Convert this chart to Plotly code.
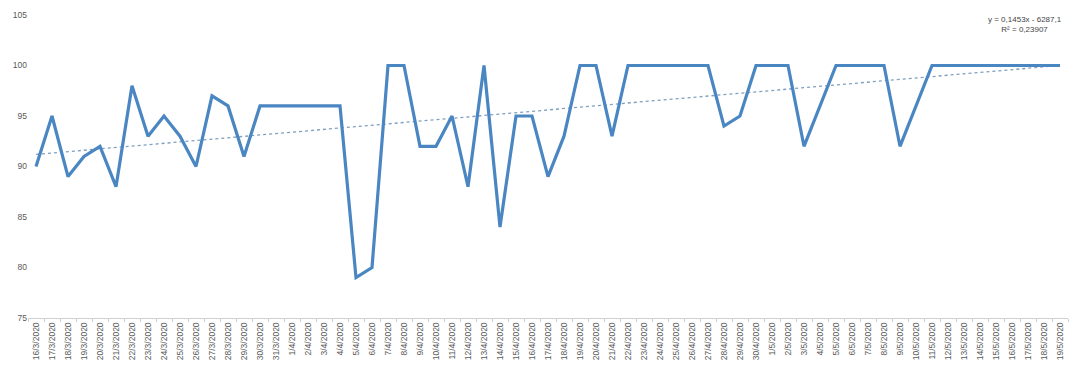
import numpy as np
import pandas as pd
import plotly.graph_objects as go

dates = pd.date_range("2020-03-16", "2020-05-19", freq="D")
labels = [f"{d.day}/{d.month}/{d.year}" for d in dates]

values = [
    90, 95, 89, 91, 92, 88, 98, 93, 95, 93, 90, 97, 96, 91, 96, 96,   # 16/3 - 31/3
    96, 96, 96, 96, 79, 80, 100, 100, 92, 92, 95, 88, 100, 84, 95, 95,  # 1/4 - 16/4
    89, 93, 100, 100, 93, 100, 100, 100, 100, 100, 100, 94, 95, 100,    # 17/4 - 30/4
    100, 100, 92, 96, 100, 100, 100, 100, 92, 96, 100, 100, 100, 100,   # 1/5 - 14/5
    100, 100, 100, 100, 100,                                            # 15/5 - 19/5
]

y_ticks = [75, 80, 85, 90, 95, 100, 105]
trend_label = ["y = 0,1453x - 6287,1", "R² = 0,23907"]

xi = np.arange(len(values))
slope, intercept = np.polyfit(xi, values, 1)
trend = slope * xi + intercept

fig = go.Figure()
fig.add_trace(go.Scatter(
    x=labels, y=trend, mode="lines",
    line=dict(color="#7f9fbf", width=1.3, dash="dot"),
    hoverinfo="skip", showlegend=False,
))
fig.add_trace(go.Scatter(
    x=labels, y=values, mode="lines",
    line=dict(color="#4a86c2", width=3.2),
    showlegend=False,
))

fig.add_annotation(
    xref="paper", yref="paper", x=0.9587, y=1.007, xanchor="center", yanchor="top",
    text=trend_label[0] + "<br>" + trend_label[1], showarrow=False, align="center",
    font=dict(family="Liberation Sans, Arial", size=8, color="#444444"),
)

# page body has an 8px margin, so figure is sized/offset to compensate
fig.update_layout(
    width=1068, height=353,
    margin=dict(l=20, r=8, t=7, b=43),
    paper_bgcolor="white", plot_bgcolor="white",
    font=dict(family="Liberation Sans, Arial", color="#595959"),
)
fig.update_xaxes(
    type="category", tickangle=-90, tickfont=dict(size=8.5, color="#595959"),
    showgrid=False, showline=True, linecolor="#d0d0d0", linewidth=1,
    ticks="outside", ticklen=3, tickcolor="#d0d0d0", tickson="boundaries",
    range=[-0.5, len(values) - 0.5], automargin=False,
)
fig.update_yaxes(
    range=[75, 105], tickvals=y_ticks, showgrid=False, zeroline=False,
    showline=False, tickfont=dict(size=8.5, color="#595959"), ticks="",
    automargin=False,
)

fig.write_html("out.html")
